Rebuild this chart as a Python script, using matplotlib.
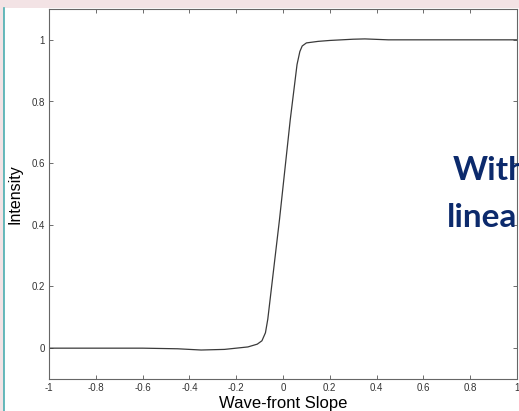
import numpy as np
import matplotlib.pyplot as plt
from matplotlib.patches import Rectangle
from matplotlib.lines import Line2D

# intensity vs wave-front slope
slope = [-1.0, -0.6, -0.45, -0.35, -0.25, -0.15, -0.11, -0.09, -0.075, -0.065,
         -0.015, 0.031, 0.06, 0.072, 0.082, 0.1, 0.15, 0.2, 0.3, 0.35, 0.45, 0.6, 1.0]
intensity = [0.0, 0.0, -0.002, -0.006, -0.004, 0.004, 0.013, 0.024, 0.05, 0.094,
             0.417, 0.741, 0.92, 0.962, 0.98, 0.99, 0.995, 0.998, 1.002, 1.003, 1.0, 1.0, 1.0]

xticks = [-1, -0.8, -0.6, -0.4, -0.2, 0, 0.2, 0.4, 0.6, 0.8, 1]
yticks = [0, 0.2, 0.4, 0.6, 0.8, 1]

fig = plt.figure(figsize=(5.19, 4.11), dpi=100)
fig.patch.set_facecolor('white')

# slide background bits: pink strip at top, teal rule at left
fig.patches.append(Rectangle((0, 1 - 8/411), 1, 8/411, transform=fig.transFigure,
                             facecolor='#f3e3e5', edgecolor='none', zorder=0))
fig.patches.append(Rectangle((0, 0), 4/519, 1 - 8/411, transform=fig.transFigure,
                             facecolor='#f3e3e5', edgecolor='none', zorder=0))
fig.lines.append(Line2D([4.5/519, 4.5/519], [0, 1 - 8/411], transform=fig.transFigure,
                        color='#4aaeb0', lw=1.2))

ax = fig.add_axes([49/519, 32/411, 468/519, 370/411])
ax.plot(slope, intensity, color='#3a3a3a', lw=0.9)

ax.set_xlim(-1, 1)
ax.set_ylim(-0.1, 1.1)
ax.set_xticks(xticks)
ax.set_yticks(yticks)
ax.set_xticklabels(['%g' % t for t in xticks])
ax.set_yticklabels(['%g' % t for t in yticks])
ax.tick_params(direction='in', top=True, right=True, length=3, width=0.6,
               color='#555555', labelsize=7, labelcolor='#333333', pad=3)
for s in ax.spines.values():
    s.set_color('#666666')
    s.set_linewidth(0.8)

ax.set_xlabel('Wave-front Slope', fontsize=12, family='Liberation Sans')
ax.xaxis.set_label_coords(0.5, -17/370)
ax.set_ylabel('Intensity', fontsize=11.5, family='Liberation Sans')
ax.yaxis.set_label_coords(-26/468, 0.5)
for lab in ax.get_xticklabels() + ax.get_yticklabels():
    lab.set_family('Liberation Sans')

fig.text(453/519, 1 - 180/411, 'With', color='#0c2a6c', fontsize=24,
         fontweight='bold', family='Lato', va='baseline')
fig.text(447/519, 1 - 227/411, 'linea', color='#0c2a6c', fontsize=24,
         fontweight='bold', family='Lato', va='baseline')

fig.savefig('out.png', dpi=100)
